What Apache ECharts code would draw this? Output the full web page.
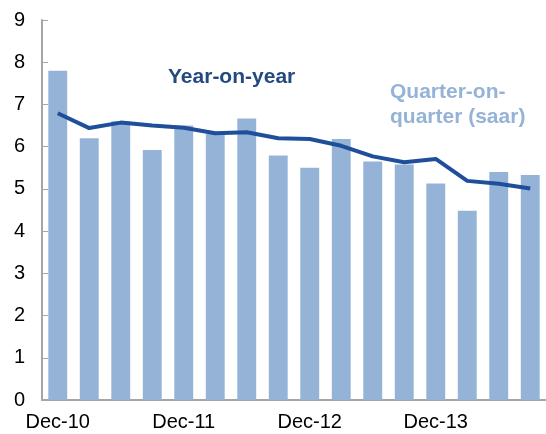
<!DOCTYPE html>
<html>
<head>
<meta charset="utf-8">
<script src="https://cdn.jsdelivr.net/npm/echarts@6/dist/echarts.min.js"></script>
<style>
  html, body { margin: 0; padding: 0; background: #fff; }
  #chart { width: 546px; height: 434px; }
</style>
</head>
<body>
<div id="chart"></div>
<script>
var quarters = ['Dec-10', 'Mar-11', 'Jun-11', 'Sep-11', 'Dec-11', 'Mar-12', 'Jun-12', 'Sep-12',
	'Dec-12', 'Mar-13', 'Jun-13', 'Sep-13', 'Dec-13', 'Mar-14', 'Jun-14', 'Sep-14'];

// quarter-on-quarter (saar), bars
var qoq = [7.8, 6.2, 6.6, 5.92, 6.5, 6.3, 6.67, 5.79, 5.5, 6.18, 5.65, 5.58, 5.13, 4.48, 5.4, 5.33];

// year-on-year, line
var yoy = [6.79, 6.44, 6.57, 6.5, 6.45, 6.32, 6.34, 6.2, 6.18, 6.02, 5.77, 5.63, 5.71, 5.19, 5.12, 5.01];

var font = 'Liberation Sans, Arial, sans-serif';

var option = {
	animation: false,
	grid: {
		left: 42,
		top: 20,
		width: 506,
		bottom: 34
	},
	xAxis: {
		type: 'category',
		data: quarters,
		axisLine: { lineStyle: { color: '#a6a6a6', width: 2 } },
		axisTick: {
			inside: true,
			interval: 3,
			length: 6,
			lineStyle: { color: '#a6a6a6', width: 1 }
		},
		axisLabel: {
			interval: 3,
			color: '#000',
			fontFamily: font,
			fontSize: 20,
			margin: 12
		}
	},
	yAxis: {
		type: 'value',
		min: 0,
		max: 9,
		interval: 1,
		splitLine: { show: false },
		axisLine: { show: true, lineStyle: { color: '#a6a6a6', width: 2 } },
		axisTick: {
			show: true,
			inside: true,
			length: 6,
			lineStyle: { color: '#a6a6a6', width: 1 }
		},
		axisLabel: {
			color: '#000',
			fontFamily: font,
			fontSize: 20,
			margin: 17
		}
	},
	series: [{
		name: 'Quarter-on-quarter (saar)',
		type: 'bar',
		data: qoq,
		barCategoryGap: '40%',
		itemStyle: { color: '#95b3d7' }
	}, {
		name: 'Year-on-year',
		type: 'line',
		data: yoy,
		symbol: 'none',
		lineStyle: { color: '#1f4e9a', width: 4 },
		z: 3
	}],
	graphic: [{
		type: 'text',
		left: 168,
		top: 67,
		style: {
			text: 'Year-on-year',
			fill: '#23497f',
			font: 'bold 21px Liberation Sans, Arial, sans-serif'
		}
	}, {
		type: 'text',
		left: 390,
		top: 80,
		style: {
			text: 'Quarter-on-\nquarter (saar)',
			fill: '#95b3d7',
			lineHeight: 25,
			font: 'bold 21px Liberation Sans, Arial, sans-serif'
		}
	}]
};

var myChart = echarts.init(document.getElementById('chart'));
myChart.setOption(option);
</script>
</body>
</html>
